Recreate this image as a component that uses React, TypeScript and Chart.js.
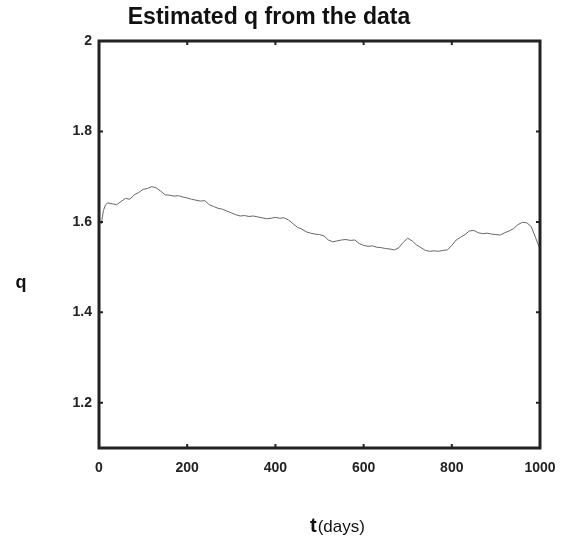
import React, { useEffect, useRef } from "react";
import { Chart, registerables } from "chart.js";

Chart.register(...registerables);

const days = [5, 10, 15, 20, 30, 40, 50, 60, 70, 80, 90, 100, 110, 120, 130, 140, 150, 160, 170, 180, 190, 200, 210, 220, 230, 240, 250, 260, 270, 280, 290, 300, 310, 320, 330, 340, 350, 360, 370, 380, 390, 400, 410, 420, 430, 440, 450, 460, 470, 480, 490, 500, 510, 520, 530, 540, 550, 560, 570, 580, 590, 600, 610, 620, 630, 640, 650, 660, 670, 680, 690, 700, 710, 720, 730, 740, 750, 760, 770, 780, 790, 800, 810, 820, 830, 840, 850, 860, 870, 880, 890, 900, 910, 920, 930, 940, 950, 960, 970, 980, 990, 1000];
const qValues = [1.595, 1.625, 1.638, 1.642, 1.640, 1.638, 1.645, 1.652, 1.650, 1.660, 1.665, 1.672, 1.674, 1.678, 1.675, 1.668, 1.660, 1.659, 1.657, 1.658, 1.655, 1.653, 1.650, 1.648, 1.646, 1.647, 1.638, 1.634, 1.630, 1.628, 1.624, 1.620, 1.616, 1.613, 1.614, 1.612, 1.613, 1.611, 1.609, 1.607, 1.608, 1.610, 1.608, 1.609, 1.604, 1.596, 1.588, 1.584, 1.578, 1.575, 1.573, 1.572, 1.569, 1.560, 1.556, 1.558, 1.560, 1.561, 1.559, 1.560, 1.552, 1.548, 1.546, 1.547, 1.544, 1.543, 1.541, 1.540, 1.538, 1.543, 1.555, 1.564, 1.558, 1.549, 1.543, 1.537, 1.535, 1.536, 1.535, 1.537, 1.538, 1.548, 1.560, 1.566, 1.572, 1.580, 1.581, 1.576, 1.574, 1.575, 1.573, 1.572, 1.571, 1.576, 1.580, 1.585, 1.594, 1.599, 1.598, 1.590, 1.565, 1.540];
const xTicks = [0, 200, 400, 600, 800, 1000];
const yTicks = [1.2, 1.4, 1.6, 1.8, 2];

const titleText = "Estimated q from the data";
const yLabel = "q";
const xLabelMain = "t";
const xLabelUnit = "(days)";

const FONT = "'Liberation Sans', Arial, Helvetica, sans-serif";

const framePlugin = {
  id: "frame",
  afterDraw(chart: any) {
    const { ctx, chartArea } = chart;
    const { left, right, top, bottom } = chartArea;
    const xs = chart.scales.x;
    const ys = chart.scales.y;
    ctx.save();
    ctx.strokeStyle = "#222";
    ctx.lineWidth = 3;
    ctx.strokeRect(left, top, right - left, bottom - top);
    ctx.lineWidth = 2;
    const tl = 4;
    ctx.beginPath();
    xTicks.forEach((t) => {
      if (t === 0 || t === 1000) return;
      const px = xs.getPixelForValue(t);
      ctx.moveTo(px, bottom);
      ctx.lineTo(px, bottom - tl);
      ctx.moveTo(px, top);
      ctx.lineTo(px, top + tl);
    });
    yTicks.forEach((t) => {
      if (t === 2) return;
      const py = ys.getPixelForValue(t);
      ctx.moveTo(left, py);
      ctx.lineTo(left + tl, py);
      ctx.moveTo(right, py);
      ctx.lineTo(right - tl, py);
    });
    ctx.stroke();

    ctx.fillStyle = "#111";
    ctx.textBaseline = "middle";
    ctx.textAlign = "center";
    ctx.font = `bold 23px ${FONT}`;
    ctx.fillText(titleText, 269, 18);

    ctx.font = `bold 18px ${FONT}`;
    ctx.fillText(yLabel, 21, 283);

    ctx.font = `bold 20px ${FONT}`;
    const w1 = ctx.measureText(xLabelMain).width;
    const start = 310;
    ctx.textAlign = "left";
    ctx.textBaseline = "alphabetic";
    ctx.fillText(xLabelMain, start, 532);
    ctx.font = `17px ${FONT}`;
    ctx.fillText(xLabelUnit, start + w1 + 1, 532);
    ctx.restore();
  },
};

export default function App() {
  const ref = useRef<HTMLCanvasElement | null>(null);
  useEffect(() => {
    document.body.style.margin = "0";
    const canvas = ref.current!;
    const chart = new Chart(canvas, {
      type: "line",
      data: {
        datasets: [
          {
            data: days.map((d, i) => ({ x: d, y: qValues[i] })),
            borderColor: "#666666",
            borderWidth: 1,
            pointRadius: 0,
            tension: 0,
            fill: false,
          },
        ],
      },
      options: {
        responsive: false,
        animation: false,
        maintainAspectRatio: false,
        layout: { padding: { left: 0, right: 21, top: 41, bottom: 0 } },
        plugins: { legend: { display: false }, tooltip: { enabled: false }, title: { display: false } },
        scales: {
          x: {
            type: "linear",
            min: 0,
            max: 1000,
            grid: { display: false, drawTicks: false, tickLength: 0 },
            border: { display: false },
            afterBuildTicks: (s: any) => {
              s.ticks = xTicks.map((v) => ({ value: v }));
            },
            afterFit: (s: any) => {
              s.height = 95;
              s.paddingLeft = 0;
              s.paddingRight = 0;
            },
            ticks: {
              color: "#222",
              font: { family: FONT, size: 14, weight: "bold" },
              padding: 12,
              maxRotation: 0,
              callback: (v: any) => String(v),
            },
          },
          y: {
            type: "linear",
            min: 1.1,
            max: 2,
            grid: { display: false, drawTicks: false, tickLength: 0 },
            border: { display: false },
            afterBuildTicks: (s: any) => {
              s.ticks = yTicks.map((v) => ({ value: v }));
            },
            afterFit: (s: any) => {
              s.width = 99;
              s.paddingTop = 0;
              s.paddingBottom = 0;
            },
            ticks: {
              color: "#222",
              font: { family: FONT, size: 14, weight: "bold" },
              padding: 7,
              callback: (v: any) => (v === 2 ? "2" : Number(v).toFixed(1)),
            },
          },
        },
      },
      plugins: [framePlugin],
    });
    return () => chart.destroy();
  }, []);
  return (
    <div style={{ width: 561, height: 543 }}>
      <canvas ref={ref} width={561} height={543} style={{ display: "block" }} />
    </div>
  );
}
